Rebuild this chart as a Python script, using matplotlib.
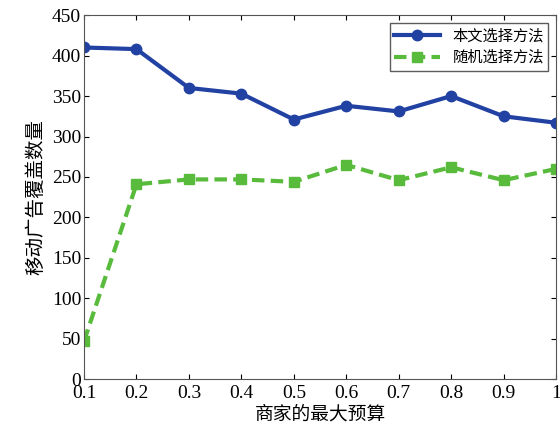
import matplotlib
matplotlib.use("Agg")
import matplotlib.pyplot as plt

budget = [0.1, 0.2, 0.3, 0.4, 0.5, 0.6, 0.7, 0.8, 0.9, 1.0]
ours = [410, 408, 360, 353, 321, 338, 331, 350, 325, 317]
rand = [47, 241, 247, 247, 244, 265, 246, 262, 246, 260]
xticklabels = ["0.1", "0.2", "0.3", "0.4", "0.5", "0.6", "0.7", "0.8", "0.9", "1"]

plt.rcParams['font.family'] = ['Liberation Serif', 'Noto Sans CJK SC']
fig = plt.figure(figsize=(5.6, 4.32), dpi=100)
ax = fig.add_axes([0.15, 0.122, 0.843, 0.843])
ax.plot(budget, ours, '-o', color='#2141a3', lw=3, ms=7.5, label='本文选择方法')
ax.plot(budget, rand, '--s', color='#58bb3c', lw=3, ms=7.5, label='随机选择方法', dashes=(3, 1.5))
ax.set_xlim(0.1, 1.0)
ax.set_ylim(0, 450)
ax.set_xticks(budget)
ax.set_xticklabels(xticklabels)
ax.set_yticks(range(0, 451, 50))
ax.tick_params(direction='in', top=True, right=True, labelsize=14)
ax.tick_params(axis='x', pad=4)
ax.tick_params(axis='y', pad=2)
for s in ax.spines.values():
    s.set_color('#555555')
ax.set_xlabel('商家的最大预算', fontsize=13.5, family=['Noto Sans CJK SC'], labelpad=1)
ax.set_ylabel('移动广告覆盖数量', fontsize=14, family=['Noto Sans CJK SC'], labelpad=4)
leg = ax.legend(loc='upper right', prop={'family': ['Noto Sans CJK SC'], 'size': 11},
                fancybox=False, edgecolor='#333333', handlelength=3, borderpad=0.3, labelspacing=0.3)
fig.savefig('out.png', dpi=100)
